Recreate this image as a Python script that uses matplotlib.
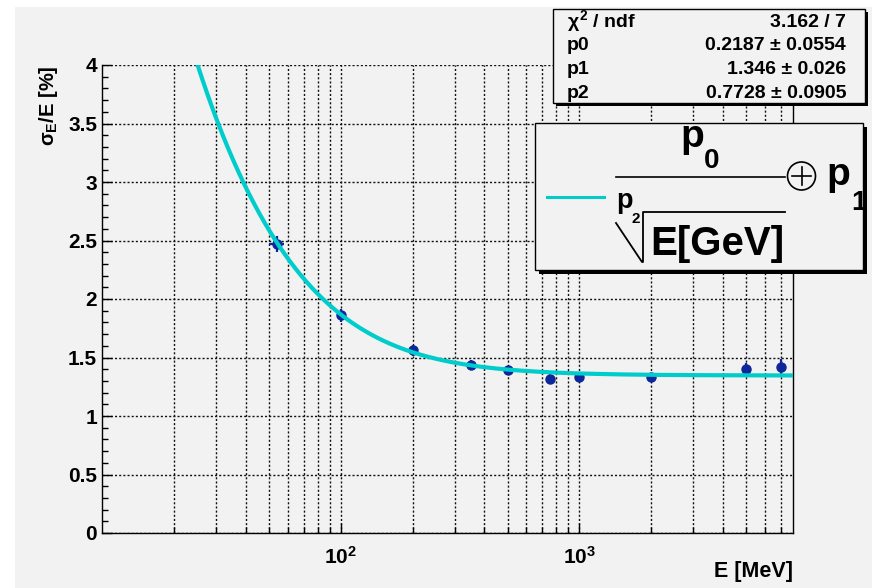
import numpy as np
import matplotlib
matplotlib.use("Agg")
import matplotlib.pyplot as plt
from matplotlib.patches import Rectangle, Circle
from matplotlib.lines import Line2D
from matplotlib.ticker import FixedLocator, FixedFormatter, MultipleLocator, FuncFormatter

plt.rcParams['font.family'] = ['Liberation Sans', 'DejaVu Sans']
plt.rcParams['font.weight'] = 'bold'
plt.rcParams['mathtext.fontset'] = 'custom'
plt.rcParams['mathtext.rm'] = 'Liberation Sans:bold'
plt.rcParams['mathtext.it'] = 'Liberation Sans:bold'
plt.rcParams['mathtext.bf'] = 'Liberation Sans:bold'
plt.rcParams['mathtext.sf'] = 'Liberation Sans:bold'

# measured energy resolution vs beam energy
energy = np.array([54, 100, 200, 350, 500, 750, 1000, 2000, 5000, 7000])
energy_err = np.array([4, 0, 0, 0, 0, 0, 0, 0, 0, 0])
resolution = np.array([2.47, 1.86, 1.56, 1.44, 1.39, 1.32, 1.33, 1.33, 1.40, 1.42])
resolution_err = np.array([0.07, 0.055, 0.05, 0.04, 0.04, 0.04, 0.04, 0.04, 0.055, 0.07])

# fit results: sigma/E = p0 / E^p2 (+) p1, E in GeV
fit_names = ["p0", "p1", "p2"]
fit_vals = [0.2187, 1.346, 0.7728]
fit_errs = [0.0554, 0.026, 0.0905]
chi2, ndf = 3.162, 7

x_range = (10, 7850)
y_range = (0, 4)

BG = '#f2f2f2'
MARKER = '#0d2699'
CURVE = '#00cccc'
W, H = 872, 588


def px(x, y):
    # pixel position (top-left origin) -> inches for dpi_scale_trans
    return (x / 100.0, (H - y) / 100.0)


def resolution_fit(e_mev):
    e = e_mev / 1000.0
    return np.sqrt((fit_vals[0] / e ** fit_vals[2]) ** 2 + fit_vals[1] ** 2)


fig = plt.figure(figsize=(W / 100, H / 100), dpi=100)
fig.patch.set_facecolor('white')
tr = fig.dpi_scale_trans

# canvas
fig.add_artist(Rectangle(px(15, H), (W - 15) / 100, (H - 7) / 100, transform=tr,
                         fc=BG, ec='none', zorder=-1))

ax = fig.add_axes([102 / W, 1 - 533 / H, (793 - 102) / W, (533 - 65) / H])
ax.set_facecolor(BG)
ax.set_xscale('log')
ax.set_xlim(*x_range)
ax.set_ylim(*y_range)

major_x = [100, 1000]
minor_x = [m * d for d in (10, 100, 1000) for m in range(2, 10) if m * d < x_range[1]]
ax.xaxis.set_major_locator(FixedLocator(major_x))
ax.xaxis.set_major_formatter(FixedFormatter([r'$10^{2}$', r'$10^{3}$']))
ax.xaxis.set_minor_locator(FixedLocator(minor_x))
ax.xaxis.set_minor_formatter(FixedFormatter([]))
ax.yaxis.set_major_locator(MultipleLocator(0.5))
ax.yaxis.set_minor_locator(MultipleLocator(0.1))
ax.yaxis.set_major_formatter(FuncFormatter(lambda v, p: f"{v:g}"))

grid_style = dict(color='#111111', linestyle=(0, (1.5, 1.5)), linewidth=1.0)
ax.grid(True, which='both', axis='x', **grid_style)
ax.grid(True, which='major', axis='y', **grid_style)
ax.set_axisbelow(True)

ax.tick_params(axis='both', which='both', direction='in', colors='black',
               top=False, right=False, width=1)
ax.tick_params(axis='both', which='major', length=7.5, labelsize=15)
ax.tick_params(axis='both', which='minor', length=4)
ax.tick_params(axis='y', pad=3.5)
ax.tick_params(axis='x', pad=9)
for lab in ax.get_xticklabels() + ax.get_yticklabels():
    lab.set_fontweight('bold')

ax.spines['top'].set_visible(False)
for s in ('left', 'right', 'bottom'):
    ax.spines[s].set_color('black')
    ax.spines[s].set_linewidth(1.0)

ax.errorbar(energy, resolution, xerr=energy_err, yerr=resolution_err, fmt='o',
            color=MARKER, ms=6.5, elinewidth=1.6, capsize=0, zorder=2)

e_curve = np.logspace(np.log10(x_range[0]), np.log10(7800), 400)
ax.plot(e_curve, resolution_fit(e_curve), color=CURVE, lw=3, zorder=3)

# axis titles
fig.text(*px(49, 65), r'$\sigma_{E}$/E [%]', transform=tr, rotation=90,
         ha='center', va='top', fontsize=14.5, fontweight='bold')
fig.text(*px(793, 572), 'E [MeV]', transform=tr, ha='right', va='center',
         fontsize=15.5, fontweight='bold')

# stats box
fig.add_artist(Rectangle(px(556, 106), (868 - 556) / 100, (106 - 12) / 100, transform=tr,
                         fc='black', ec='none', zorder=5))
fig.add_artist(Rectangle(px(553, 103), (865 - 553) / 100, (103 - 9) / 100, transform=tr,
                         fc=BG, ec='black', lw=1, zorder=6))
rows = [(r"$\chi^{2}$ / ndf", f"{chi2:g} / {ndf}")]
rows += [(n, f"{v:g} ± {e:g}") for n, v, e in zip(fit_names, fit_vals, fit_errs)]
for i, (name, val) in enumerate(rows):
    yb = 27 + i * 23.5
    fig.text(*px(567, yb), name, transform=tr, ha='left', va='baseline',
             fontsize=14, fontweight='bold', zorder=7)
    fig.text(*px(846, yb), val, transform=tr, ha='right', va='baseline',
             fontsize=14, fontweight='bold', zorder=7)

# legend box with the fit formula
fig.add_artist(Rectangle(px(539, 274), (867 - 539) / 100, (274 - 127) / 100, transform=tr,
                         fc='black', ec='none', zorder=5))
leg = Rectangle(px(535, 270), (863 - 535) / 100, (270 - 123) / 100, transform=tr,
                fc=BG, ec='black', lw=1, zorder=6)
fig.add_artist(leg)
fig.add_artist(Line2D([547 / 100, 604 / 100], [(H - 197) / 100] * 2, transform=tr,
                      color=CURVE, lw=2.2, zorder=7))

def leg_text(x, y, s, size):
    t = fig.text(*px(x, y), s, transform=tr, ha='left', va='baseline',
                 fontsize=size, fontweight='bold', zorder=7)
    t.set_clip_path(leg)
    return t

leg_text(680, 147, 'p', 28)
leg_text(704, 168, '0', 20)
fig.add_artist(Line2D([616 / 100, 785 / 100], [(H - 177) / 100] * 2, transform=tr,
                      color='black', lw=1.2, zorder=7))
fig.add_artist(Circle(px(801.5, 176), 0.14, transform=tr, fc='none', ec='black',
                      lw=1.2, zorder=7))
fig.add_artist(Line2D([792 / 100, 811 / 100], [(H - 176) / 100] * 2, transform=tr,
                      color='black', lw=1.2, zorder=7))
fig.add_artist(Line2D([801.5 / 100] * 2, [(H - 166.5) / 100, (H - 185.5) / 100],
                      transform=tr, color='black', lw=1.2, zorder=7))
leg_text(826, 185, 'p', 28)
leg_text(851, 210, '1', 20)
leg_text(616, 208, 'p', 19.5)
leg_text(632, 223, '2', 11)
rad_x = [616, 642, 643, 643, 785]
rad_y = [223, 262, 262, 212, 212]
fig.add_artist(Line2D([x / 100 for x in rad_x], [(H - y) / 100 for y in rad_y],
                      transform=tr, color='black', lw=1.3, zorder=7))
leg_text(650, 255, 'E[GeV]', 29)

fig.savefig('out.png', dpi=100, facecolor=fig.get_facecolor())
